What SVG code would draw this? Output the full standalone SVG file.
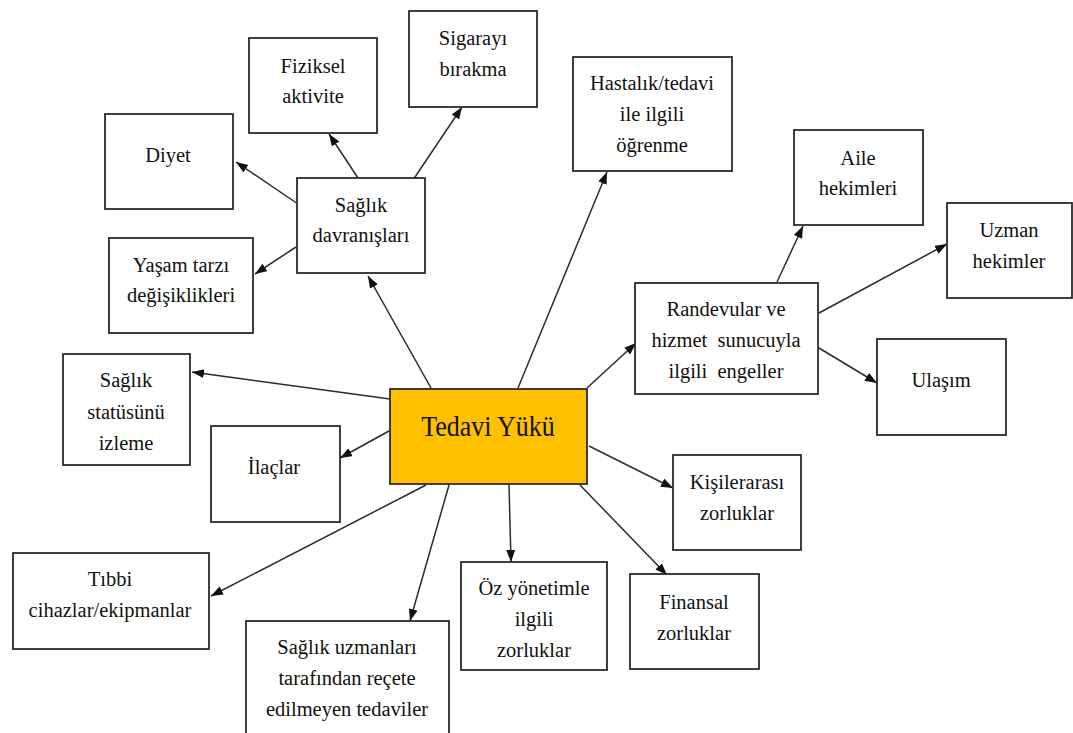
<svg xmlns="http://www.w3.org/2000/svg" width="1073" height="733" viewBox="0 0 1073 733">
  <defs>
    <marker id="arrow" markerUnits="userSpaceOnUse" markerWidth="13" markerHeight="10" refX="12" refY="4.5" orient="auto">
      <path d="M0,0 L12,4.5 L0,9 Z" fill="#111"/>
    </marker>
    <style>
      .box { fill: #ffffff; stroke: #2b2b2b; stroke-width: 1.8; }
      .core { fill: #ffc000; stroke: #2b2b2b; stroke-width: 1.8; }
      text { font-family: 'Liberation Serif', 'Times New Roman', serif; fill: #111; text-anchor: middle; }
      .lbl { font-size: 20.5px; }
      .title { font-size: 26px; }
      .edge { stroke: #2b2b2b; stroke-width: 1.5; fill: none; }
      .edge.arr { marker-end: url(#arrow); }
    </style>
  </defs>
  <rect width="1073" height="733" fill="#ffffff"/>

  <!-- connectors -->
  <g id="connectors">
    <!-- from the central node -->
    <line class="edge arr" x1="431" y1="388" x2="368" y2="276"/>
    <line class="edge arr" x1="518" y1="388" x2="607" y2="172"/>
    <line class="edge arr" x1="587" y1="388" x2="636" y2="343"/>
    <line class="edge arr" x1="390" y1="399" x2="192" y2="372"/>
    <line class="edge arr" x1="389" y1="431" x2="340" y2="458"/>
    <line class="edge arr" x1="589" y1="446" x2="673" y2="488"/>
    <line class="edge arr" x1="580" y1="485" x2="667" y2="575"/>
    <line class="edge arr" x1="509" y1="485" x2="511" y2="562"/>
    <line class="edge arr" x1="449" y1="485" x2="410" y2="621"/>
    <line class="edge arr" x1="426" y1="485" x2="211" y2="596"/>
    <!-- from Sağlık davranışları -->
    <line class="edge arr" x1="358" y1="178" x2="329" y2="134"/>
    <line class="edge arr" x1="413" y1="180" x2="462" y2="107"/>
    <line class="edge arr" x1="298" y1="204" x2="236" y2="162"/>
    <line class="edge arr" x1="296" y1="247" x2="255" y2="274"/>
    <!-- from Randevular -->
    <line class="edge arr" x1="777" y1="282" x2="803" y2="226"/>
    <line class="edge arr" x1="819" y1="313" x2="947" y2="244"/>
    <line class="edge arr" x1="819" y1="348" x2="877" y2="383"/>
  </g>

  <!-- central node -->
  <g id="tedavi-yuku">
    <rect class="core" x="390" y="389" width="197" height="95"/>
    <text class="title" x="488" y="436" transform="translate(0,436) scale(1,1.12) translate(0,-436)">Tedavi Yükü</text>
  </g>

  <g id="saglik-davranislari">
    <rect class="box" x="297" y="178" width="128" height="95"/>
    <text class="lbl" x="361" y="212">Sağlık</text>
    <text class="lbl" x="361" y="242">davranışları</text>
  </g>

  <g id="sigara">
    <rect class="box" x="409" y="11" width="128" height="96"/>
    <text class="lbl" x="473" y="45">Sigarayı</text>
    <text class="lbl" x="473" y="76">bırakma</text>
  </g>

  <g id="fiziksel">
    <rect class="box" x="249" y="38" width="128" height="95"/>
    <text class="lbl" x="313" y="73">Fiziksel</text>
    <text class="lbl" x="313" y="103">aktivite</text>
  </g>

  <g id="diyet">
    <rect class="box" x="105" y="114" width="128" height="95"/>
    <text class="lbl" x="168" y="162">Diyet</text>
  </g>

  <g id="yasam-tarzi">
    <rect class="box" x="109" y="238" width="144" height="95"/>
    <text class="lbl" x="181" y="272">Yaşam tarzı</text>
    <text class="lbl" x="181" y="302">değişiklikleri</text>
  </g>

  <g id="hastalik">
    <rect class="box" x="573" y="57" width="159" height="114"/>
    <text class="lbl" x="652" y="90">Hastalık/tedavi</text>
    <text class="lbl" x="652" y="121">ile ilgili</text>
    <text class="lbl" x="652" y="152">öğrenme</text>
  </g>

  <g id="randevular">
    <rect class="box" x="635" y="283" width="183" height="111"/>
    <text class="lbl" x="726" y="316">Randevular ve</text>
    <text class="lbl" x="726" y="347" xml:space="preserve">hizmet  sunucuyla</text>
    <text class="lbl" x="726" y="378" xml:space="preserve">ilgili  engeller</text>
  </g>

  <g id="aile">
    <rect class="box" x="794" y="130" width="129" height="95"/>
    <text class="lbl" x="858" y="165">Aile</text>
    <text class="lbl" x="858" y="195">hekimleri</text>
  </g>

  <g id="uzman">
    <rect class="box" x="947" y="203" width="125" height="95"/>
    <text class="lbl" x="1009" y="237">Uzman</text>
    <text class="lbl" x="1009" y="268">hekimler</text>
  </g>

  <g id="ulasim">
    <rect class="box" x="877" y="339" width="129" height="96"/>
    <text class="lbl" x="941" y="387">Ulaşım</text>
  </g>

  <g id="saglik-statusu">
    <rect class="box" x="63" y="354" width="127" height="111"/>
    <text class="lbl" x="126" y="387">Sağlık</text>
    <text class="lbl" x="126" y="419">statüsünü</text>
    <text class="lbl" x="126" y="450">izleme</text>
  </g>

  <g id="ilaclar">
    <rect class="box" x="211" y="426" width="129" height="96"/>
    <text class="lbl" x="274" y="474">İlaçlar</text>
  </g>

  <g id="tibbi-cihazlar">
    <rect class="box" x="13" y="553" width="196" height="96"/>
    <text class="lbl" x="110" y="586">Tıbbi</text>
    <text class="lbl" x="110" y="617">cihazlar/ekipmanlar</text>
  </g>

  <g id="recetesiz-tedaviler">
    <rect class="box" x="246" y="621" width="203" height="130"/>
    <text class="lbl" x="347" y="654">Sağlık uzmanları</text>
    <text class="lbl" x="347" y="685">tarafından reçete</text>
    <text class="lbl" x="347" y="716">edilmeyen tedaviler</text>
  </g>

  <g id="oz-yonetim">
    <rect class="box" x="461" y="562" width="146" height="108"/>
    <text class="lbl" x="534" y="595">Öz yönetimle</text>
    <text class="lbl" x="534" y="626">ilgili</text>
    <text class="lbl" x="534" y="657">zorluklar</text>
  </g>

  <g id="finansal">
    <rect class="box" x="630" y="574" width="129" height="95"/>
    <text class="lbl" x="694" y="609">Finansal</text>
    <text class="lbl" x="694" y="640">zorluklar</text>
  </g>

  <g id="kisilerarasi">
    <rect class="box" x="673" y="455" width="128" height="95"/>
    <text class="lbl" x="737" y="489">Kişilerarası</text>
    <text class="lbl" x="737" y="520">zorluklar</text>
  </g>
</svg>
